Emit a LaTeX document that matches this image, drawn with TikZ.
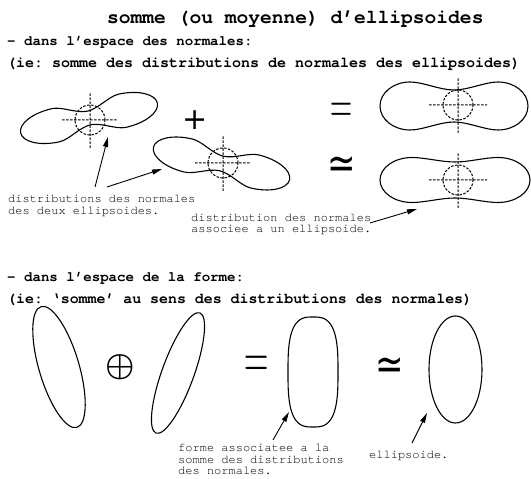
\documentclass[tikz,border=0pt]{standalone}
\usepackage{fontspec}
\setmonofont{TeX Gyre Cursor}
\newfontfamily\symfont{DejaVu Sans}
\usetikzlibrary{arrows.meta}
% peanut-shaped outline: half length L, lobe distance from tip D, lobe half height H, waist half height W
\newcommand{\peanutshape}[4]{%
  ({#1},0) .. controls ({#1},{0.552*#3}) and ({#1-0.448*#2},{#3}) .. ({#1-#2},{#3})
  .. controls ({#1-#2-0.3*(#1-#2)},{#3}) and ({0.33*(#1-#2)},{#4}) .. (0,{#4})
  .. controls ({-0.33*(#1-#2)},{#4}) and ({-#1+#2+0.3*(#1-#2)},{#3}) .. ({-#1+#2},{#3})
  .. controls ({-#1+0.448*#2},{#3}) and ({-#1},{0.552*#3}) .. ({-#1},0)
  .. controls ({-#1},{-0.552*#3}) and ({-#1+0.448*#2},{-#3}) .. ({-#1+#2},{-#3})
  .. controls ({-#1+#2+0.3*(#1-#2)},{-#3}) and ({-0.33*(#1-#2)},{-#4}) .. (0,{-#4})
  .. controls ({0.33*(#1-#2)},{-#4}) and ({#1-#2-0.3*(#1-#2)},{-#3}) .. ({#1-#2},{-#3})
  .. controls ({#1-0.448*#2},{-#3}) and ({#1},{-0.552*#3}) .. ({#1},0) -- cycle}
\begin{document}
\begin{tikzpicture}[x=1pt,y=1pt,
  shapeline/.style={line width=1.1pt},
  crosshair/.style={line width=1pt, dash pattern=on 2.5pt off 1.5pt},
  pointer/.style={line width=0.9pt, -{Triangle[length=10pt,width=5pt]}},
  heading/.style={inner sep=0pt, anchor=base west},
  smalltext/.style={font=\fontsize{12}{12}\selectfont\ttfamily, inner sep=0pt, anchor=base west},
  sym/.style={inner sep=0pt, anchor=center},
]
\useasboundingbox (0,0) rectangle (531,479);

% headings
\node[heading, font=\fontsize{19.6}{20}\selectfont\ttfamily\bfseries] (title) at (107,455) {somme (ou moyenne) d’ellipsoides};
\node[heading, font=\fontsize{14.1}{15}\selectfont\ttfamily\bfseries] (h1) at (7,433.3) {- dans l’espace des normales:};
\node[heading, font=\fontsize{15}{15}\selectfont\ttfamily\bfseries] (h1b) at (7,411.3) {(ie: somme des distributions de normales des ellipsoides)};
\node[heading, font=\fontsize{14.1}{15}\selectfont\ttfamily\bfseries] (h2) at (7,197) {- dans l’espace de la forme:};
\node[heading, font=\fontsize{14.9}{15}\selectfont\ttfamily\bfseries] (h2b) at (7,175) {(ie: ‘somme’ au sens des distributions des normales)};

% small labels
\node[smalltext] (l1a) at (8,276) {distributions des normales};
\node[smalltext] (l1b) at (8,264) {des deux ellipsoides.};
\node[smalltext] (l2a) at (191,257) {distribution des normales};
\node[smalltext] (l2b) at (191,246) {associee a un ellipsoide.};
\node[smalltext] (l3a) at (178,27) {forme associatee a la};
\node[smalltext] (l3b) at (178,15) {somme des distributions};
\node[smalltext] (l3c) at (178,4) {des normales.};
\node[smalltext] (l4) at (369,20) {ellipsoide.};

% symbols
\node[sym, font=\fontsize{30}{30}\selectfont\symfont] (plus) at (195,359) {+};
\node[sym, font=\fontsize{30}{30}\selectfont\rmfamily] (eq1) at (342,366) {\scalebox{1.02}[1.9]{=}};
\node[sym, font=\fontsize{34}{34}\selectfont\symfont] (sim1) at (342,311) {\scalebox{1}[1.3]{≃}};
\node[sym] (oplus) at (120,112) {\scalebox{3.3}{\boldmath$\oplus$}};
\node[sym, font=\fontsize{33}{33}\selectfont\rmfamily] (eq2) at (257,112) {\scalebox{1.02}[1.9]{=}};
\node[sym, font=\fontsize{34}{34}\selectfont\symfont] (sim2) at (390,110) {\scalebox{1}[1.3]{≃}};

% peanuts (distributions of normals)
\draw[shapeline, shift={(89,361)}, rotate=12.3] \peanutshape{70}{36}{17}{7};
\draw[shapeline, shift={(221.5,315.5)}, rotate=-13.5] \peanutshape{70}{36}{17}{7.5};
\draw[shapeline, shift={(454,373)}] \peanutshape{74}{30}{24}{16};
\draw[shapeline, shift={(455,299)}] \peanutshape{75}{32}{22.5}{18};

% crosshairs
\draw[crosshair] (90,331) -- (90,387) (62,359) -- (118,359) (90,359) circle[radius=15];
\draw[crosshair] (223,288) -- (223,344) (195,316) -- (251,316) (223,316) circle[radius=15];
\draw[crosshair] (458,346) -- (458,401) (429,374) -- (487,374) (458,374) circle[radius=15];
\draw[crosshair] (458,271) -- (458,326) (429,299) -- (487,299) (458,299) circle[radius=15];

% shapes in the form space
\draw[shapeline, rotate around={16.5:(59,112)}] (59,112) ellipse [x radius=20, y radius=63];
\draw[shapeline, rotate around={-20:(178,106)}] (178,106) ellipse [x radius=16, y radius=64];
\draw[shapeline, shift={(313,107)}] plot[domain=1:361, samples=121, variable=\t]
  ({25*cos(\t)*pow(pow(abs(cos(\t)),3)+pow(abs(sin(\t)),3),-0.33333)},
   {55*sin(\t)*pow(pow(abs(cos(\t)),3)+pow(abs(sin(\t)),3),-0.33333)}) -- cycle;
\draw[shapeline] (455.5,109.5) ellipse [x radius=26.5, y radius=53.5];

% arrows
\coordinate (a1s) at (95,292);  \coordinate (a1e) at (108,342);
\coordinate (a2s) at (107,292); \coordinate (a2e) at (162,310);
\coordinate (a3s) at (370,256); \coordinate (a3e) at (417,270);
\coordinate (a4s) at (273,39);  \coordinate (a4e) at (289,67);
\coordinate (a5s) at (412,36);  \coordinate (a5e) at (427,66);
\draw[pointer] (a1s) -- (a1e);
\draw[pointer] (a2s) -- (a2e);
\draw[pointer] (a3s) -- (a3e);
\draw[pointer] (a4s) -- (a4e);
\draw[pointer] (a5s) -- (a5e);
\end{tikzpicture}
\end{document}
